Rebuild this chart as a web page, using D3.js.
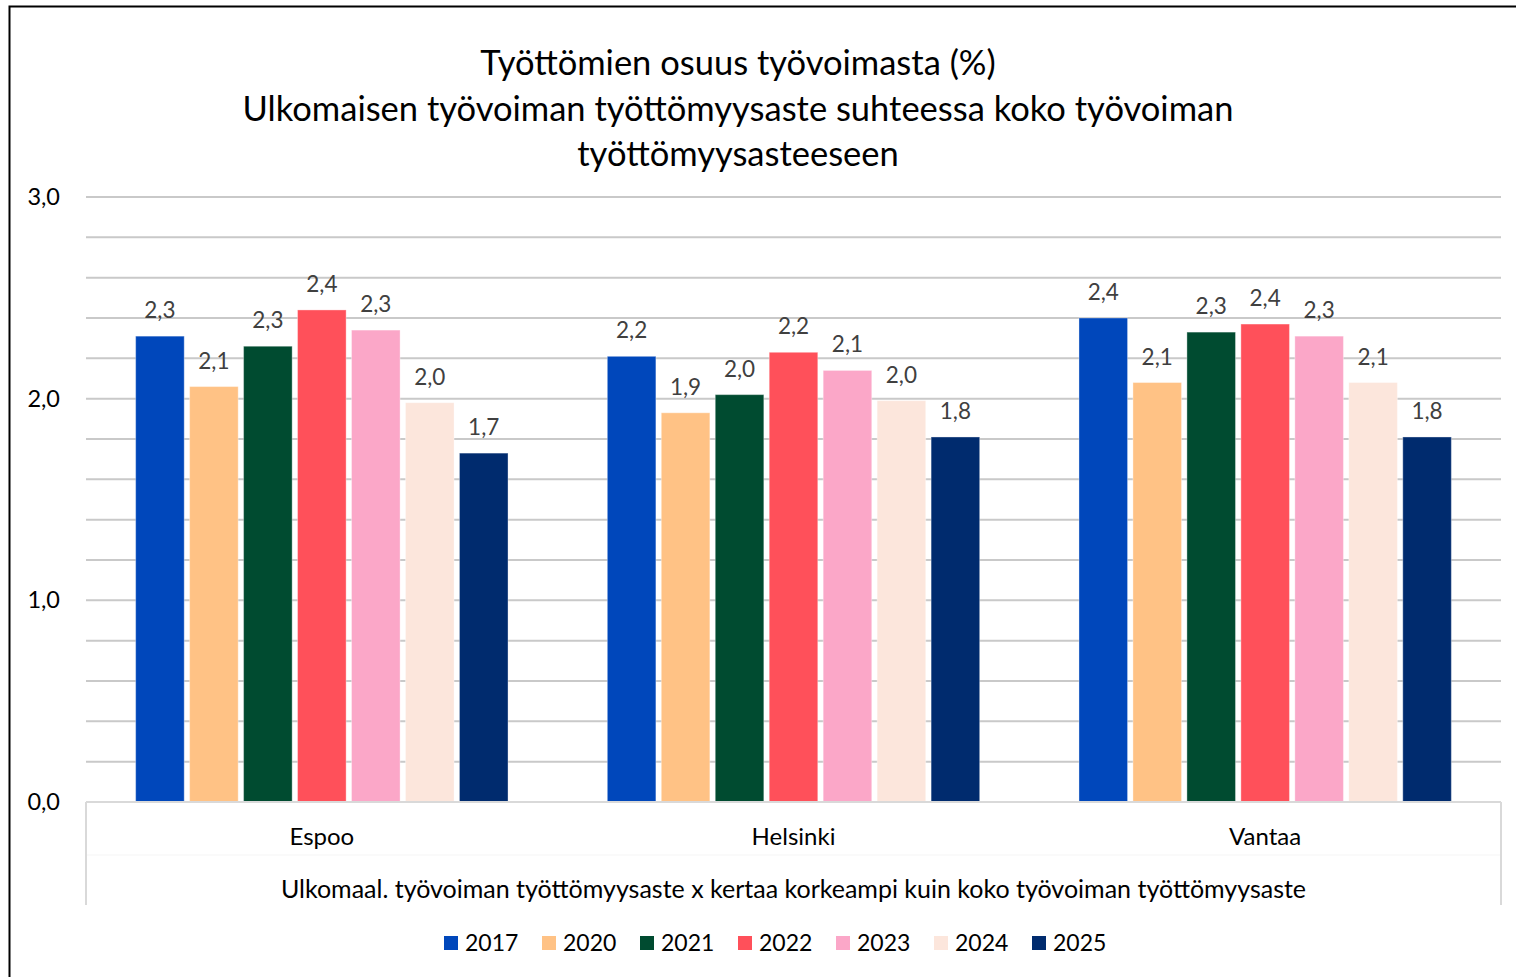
<head>
    <meta charset="utf-8">
    <title>Työttömien osuus työvoimasta</title>
    <script src="https://d3js.org/d3.v7.min.js" charset="utf-8"></script>
    <style>
        body { margin: 0; background: #fff; }
        text { font-family: Lato, 'Open Sans', sans-serif; }
    </style>
</head>

<body>
    <div class="chart"></div>
    <script type="text/javascript">

        // data
        const categories = ['Espoo', 'Helsinki', 'Vantaa']
        const years = ['2017', '2020', '2021', '2022', '2023', '2024', '2025']
        const v2017 = [2.31, 2.21, 2.40]
        const v2020 = [2.06, 1.93, 2.08]
        const v2021 = [2.26, 2.02, 2.33]
        const v2022 = [2.44, 2.23, 2.37]
        const v2023 = [2.34, 2.14, 2.31]
        const v2024 = [1.98, 1.99, 2.08]
        const v2025 = [1.73, 1.81, 1.81]
        const yTicks = [0, 1, 2, 3]

        const titleLines = ['Työttömien osuus työvoimasta (%)',
            'Ulkomaisen työvoiman työttömyysaste suhteessa koko työvoiman',
            'työttömyysasteeseen']
        const axisTitle = 'Ulkomaal. työvoiman työttömyysaste x kertaa korkeampi kuin koko työvoiman työttömyysaste'

        const seriesValues = [v2017, v2020, v2021, v2022, v2023, v2024, v2025]
        const colors = ['#0047BB', '#FFC285', '#004B30', '#FF505A', '#FBA7C8', '#FCE6DC', '#002B6E']

        let dataset = []
        for (let c = 0; c < categories.length; c++) {
            for (let s = 0; s < years.length; s++) {
                dataset.push({ cat: categories[c], year: years[s], value: seriesValues[s][c], color: colors[s] })
            }
        }

        const w = 1516
        const h = 977
        const plotLeft = 86
        const plotRight = 1501
        const plotTop = 197
        const plotBottom = 802

        const svg = d3.select('.chart')
            .append('svg')
            .attr('width', w)
            .attr('height', h)
            .style('display', 'block')

        // outer frame
        svg.append('rect')
            .attr('x', 9.5)
            .attr('y', 6.5)
            .attr('width', w + 20)
            .attr('height', h + 20)
            .attr('fill', 'none')
            .attr('stroke', '#000')
            .attr('stroke-width', 2)

        const xScale = d3.scaleBand()
            .domain(categories)
            .range([plotLeft, plotRight])

        const xInner = d3.scaleBand()
            .domain(years)
            .range([0, xScale.bandwidth()])
            .paddingInner(0.1)
            .paddingOuter(0.92)

        const yScale = d3.scaleLinear()
            .domain([0, 3])
            .range([plotBottom, plotTop])

        // gridlines every 0.2
        svg.append('g')
            .selectAll('line')
            .data(yScale.ticks(15).filter(d => d > 0))
            .enter()
            .append('line')
            .attr('x1', plotLeft)
            .attr('x2', plotRight)
            .attr('y1', d => yScale(d))
            .attr('y2', d => yScale(d))
            .attr('stroke', '#c9c9c9')
            .attr('stroke-width', 2)

        // y labels
        const yAxis = d3.axisLeft(yScale)
            .tickValues(yTicks)
            .tickSize(0)
            .tickPadding(26)
            .tickFormat(d => d3.format('.1f')(d).replace('.', ','))

        const yG = svg.append('g')
            .attr('transform', 'translate(' + plotLeft + ',0)')
            .call(yAxis)
        yG.select('.domain').remove()
        yG.selectAll('text')
            .attr('font-size', '23.5px')
            .attr('font-family', 'Lato, sans-serif')
            .attr('fill', '#000')

        // bars
        svg.append('g')
            .selectAll('rect')
            .data(dataset)
            .enter()
            .append('rect')
            .attr('x', d => xScale(d.cat) + xInner(d.year))
            .attr('y', d => yScale(d.value))
            .attr('width', xInner.bandwidth())
            .attr('height', d => yScale(0) - yScale(d.value))
            .attr('fill', d => d.color)
            .attr('stroke', 'rgba(255,255,255,0.35)')
            .attr('stroke-width', 1)

        // value labels
        svg.append('g')
            .selectAll('text')
            .data(dataset)
            .enter()
            .append('text')
            .attr('x', d => xScale(d.cat) + xInner(d.year) + xInner.bandwidth() / 2)
            .attr('y', d => yScale(d.value) - 18)
            .attr('text-anchor', 'middle')
            .attr('font-size', '22.5px')
            .attr('fill', '#404040')
            .text(d => d3.format('.1f')(d.value).replace('.', ','))

        // category axis
        const xAxis = d3.axisBottom(xScale)
            .tickSize(0)
            .tickPadding(26)

        const xG = svg.append('g')
            .attr('transform', 'translate(0,' + plotBottom + ')')
            .call(xAxis)
        xG.select('.domain').remove()
        xG.selectAll('text')
            .attr('font-size', '24px')
            .attr('font-family', 'Lato, sans-serif')
            .attr('fill', '#000')

        svg.append('line')
            .attr('x1', plotLeft).attr('x2', plotRight)
            .attr('y1', plotBottom).attr('y2', plotBottom)
            .attr('stroke', '#d9d9d9').attr('stroke-width', 2)

        svg.append('line')
            .attr('x1', plotLeft).attr('x2', plotRight)
            .attr('y1', 855).attr('y2', 855)
            .attr('stroke', '#f5f5f5').attr('stroke-width', 1)

        svg.selectAll('.edge')
            .data([plotLeft, plotRight])
            .enter()
            .append('line')
            .attr('class', 'edge')
            .attr('x1', d => d).attr('x2', d => d)
            .attr('y1', plotBottom).attr('y2', 905)
            .attr('stroke', '#d9d9d9').attr('stroke-width', 2)

        svg.append('text')
            .attr('x', (plotLeft + plotRight) / 2)
            .attr('y', 898)
            .attr('text-anchor', 'middle')
            .attr('font-size', '25px')
            .attr('fill', '#000')
            .text(axisTitle)

        // title
        svg.append('g')
            .selectAll('text')
            .data(titleLines)
            .enter()
            .append('text')
            .attr('x', 738)
            .attr('y', (d, i) => 75 + i * 45.5)
            .attr('text-anchor', 'middle')
            .attr('font-size', '34.5px')
            .attr('fill', '#000')
            .text(d => d)

        // legend
        const legendX = d3.scaleBand()
            .domain(years)
            .range([444, 1130])

        const legend = svg.append('g')
            .selectAll('g')
            .data(years)
            .enter()
            .append('g')
            .attr('transform', d => 'translate(' + legendX(d) + ',0)')

        legend.append('rect')
            .attr('x', 0)
            .attr('y', 936)
            .attr('width', 14)
            .attr('height', 14)
            .attr('fill', (d, i) => colors[i])

        legend.append('text')
            .attr('x', 21)
            .attr('y', 951)
            .attr('font-size', '23px')
            .attr('fill', '#000')
            .text(d => d)

    </script>
</body>
